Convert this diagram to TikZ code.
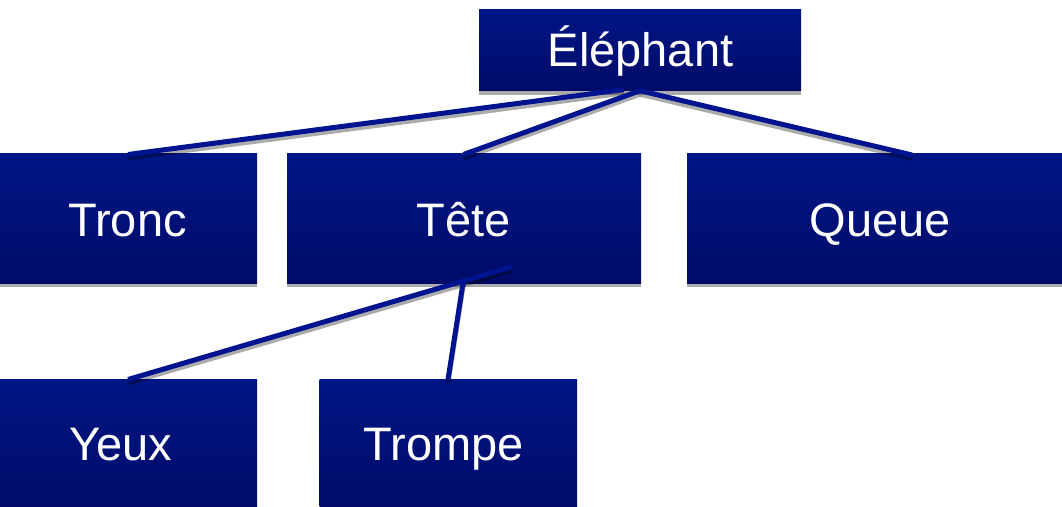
\documentclass[tikz,border=0pt]{standalone}
\usepackage{fontspec}
\setmainfont{Liberation Sans}
\usetikzlibrary{shadows}

\definecolor{boxtop}{RGB}{0,22,134}
\definecolor{boxbot}{RGB}{0,11,104}
\definecolor{linkblue}{RGB}{0,20,144}

\tikzset{
  orgbox/.style={draw=none, inner sep=0pt, rectangle,
    top color=boxtop, bottom color=boxbot,
    drop shadow={shadow xshift=0pt, shadow yshift=-4pt, fill=black, opacity=0.33}},
  boxtext/.style={anchor=base, text=white, inner sep=0pt,
    font=\fontsize{47}{56}\selectfont},
  linkshadow/.style={draw=black, opacity=0.33, line width=5pt,
    transform canvas={yshift=-3.5pt}},
  link/.style={draw=linkblue, line width=5pt},
}

\begin{document}
\begin{tikzpicture}[x=1pt, y=-1pt]
  \useasboundingbox (0,0) rectangle (1062,506);

  % boxes of the hierarchy
  \node[orgbox, minimum width=322pt, minimum height=81.5pt] (eleph)  at (640,49.75)   {};
  \node[orgbox, minimum width=257pt, minimum height=130pt]  (tronc)  at (128.5,218)   {};
  \node[orgbox, minimum width=354pt, minimum height=130pt]  (tete)   at (464,218)     {};
  \node[orgbox, minimum width=387pt, minimum height=130pt]  (queue)  at (880.5,218)   {};
  \node[orgbox, minimum width=272pt, minimum height=130pt]  (yeux)   at (121,444)     {};
  \node[orgbox, minimum width=257.5pt, minimum height=130pt] (trompe) at (448.25,444) {};

  % labels
  \node[boxtext] (lEleph)  at (640.5,66)    {Éléphant};
  \node[boxtext] (lTronc)  at (127.5,236.5) {Tronc};
  \node[boxtext] (lTete)   at (463.5,236.5) {Tête};
  \node[boxtext] (lQueue)  at (880,236)     {Queue};
  \node[boxtext] (lYeux)   at (121,460.5)   {Yeux};
  \node[boxtext] (lTrompe) at (444,460.5)   {Trompe};

  % connector end points
  \coordinate (elephL) at (624,89.5);
  \coordinate (queueT) at (912,155);
  \coordinate (teteR)  at (511,267);
  \coordinate (teteB)  at (463.5,280);
  \coordinate (tronT)  at (128,154.5);
  \coordinate (teteT)  at (463.5,154.5);
  \coordinate (yeuxT)  at (128,379.5);
  \coordinate (tromT)  at (448,379.5);

  % connector shadows
  \draw[linkshadow] (elephL) -- (tronT);
  \draw[linkshadow] (eleph.south) -- (teteT);
  \draw[linkshadow] (eleph.south) -- (queueT);
  \draw[linkshadow] (teteR) -- (yeuxT);
  \draw[linkshadow] (teteB) -- (tromT);

  % connectors
  \draw[link] (elephL) -- (tronT);
  \draw[link] (eleph.south) -- (teteT);
  \draw[link] (eleph.south) -- (queueT);
  \draw[link] (teteR) -- (yeuxT);
  \draw[link] (teteB) -- (tromT);
\end{tikzpicture}
\end{document}
